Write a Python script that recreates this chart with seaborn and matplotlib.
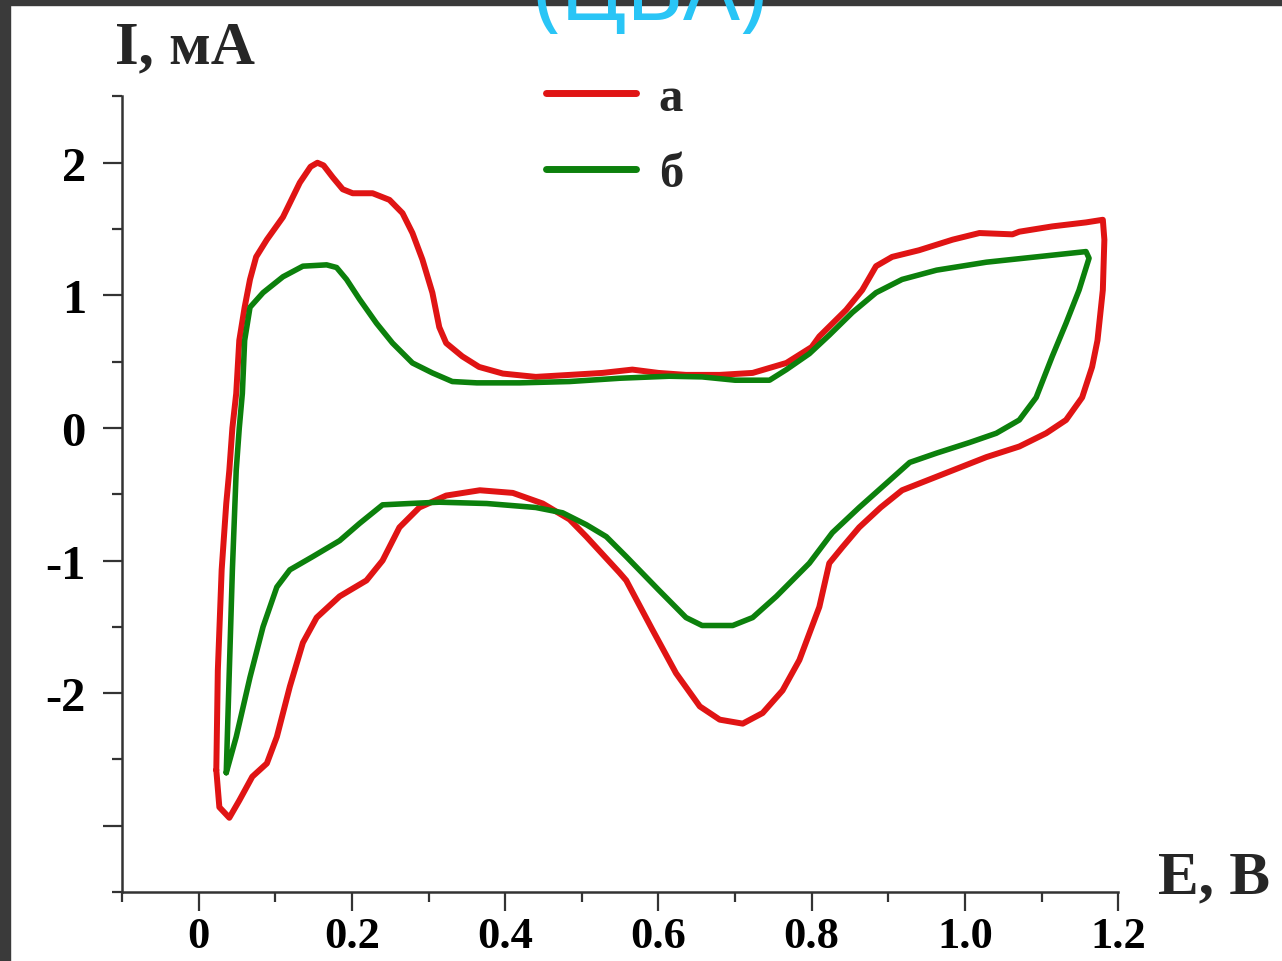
import numpy as np
import pandas as pd
import matplotlib
matplotlib.use("Agg")
import matplotlib.pyplot as plt
import seaborn as sns
from matplotlib.ticker import FixedLocator
from matplotlib.patches import Rectangle

# curve a (red), closed CV loop
red_E = [0.023, 0.025, 0.030, 0.036, 0.040, 0.044, 0.049, 0.053, 0.060, 0.067, 0.075, 0.089,
         0.110, 0.132, 0.146, 0.155, 0.163, 0.175, 0.188, 0.201, 0.227, 0.249, 0.266, 0.279,
         0.292, 0.305, 0.314, 0.323, 0.344, 0.366, 0.397, 0.440, 0.484, 0.527, 0.566, 0.600,
         0.636, 0.680, 0.723, 0.767, 0.800, 0.810, 0.845, 0.866, 0.884, 0.905, 0.940, 0.984,
         1.019, 1.062, 1.071, 1.114, 1.158, 1.180,
         1.182, 1.180, 1.173, 1.166, 1.153, 1.132, 1.106, 1.071, 1.028, 0.984, 0.940, 0.918,
         0.890, 0.862, 0.840, 0.823, 0.810, 0.784, 0.762, 0.736, 0.710, 0.680, 0.654, 0.623,
         0.592, 0.558, 0.549, 0.506, 0.484, 0.449, 0.410, 0.367, 0.323, 0.288, 0.262, 0.240,
         0.219, 0.184, 0.154, 0.136, 0.119, 0.102, 0.089, 0.070, 0.053, 0.040, 0.027, 0.023]
red_I = [-2.58, -1.83, -1.07, -0.57, -0.32, 0.00, 0.26, 0.66, 0.91, 1.12, 1.29, 1.42,
         1.59, 1.85, 1.97, 2.00, 1.98, 1.89, 1.80, 1.77, 1.77, 1.72, 1.62, 1.47,
         1.27, 1.02, 0.76, 0.64, 0.54, 0.46, 0.41, 0.385, 0.40, 0.415, 0.44, 0.415,
         0.40, 0.40, 0.415, 0.49, 0.61, 0.69, 0.89, 1.04, 1.22, 1.29, 1.34, 1.42,
         1.47, 1.46, 1.48, 1.52, 1.55, 1.57,
         1.42, 1.04, 0.66, 0.46, 0.23, 0.06, -0.04, -0.14, -0.22, -0.32, -0.42, -0.47,
         -0.60, -0.75, -0.90, -1.02, -1.35, -1.75, -1.98, -2.15, -2.23, -2.20, -2.10, -1.85,
         -1.52, -1.15, -1.09, -0.82, -0.69, -0.57, -0.49, -0.47, -0.51, -0.60, -0.75, -1.00,
         -1.15, -1.27, -1.43, -1.62, -1.95, -2.33, -2.53, -2.63, -2.81, -2.94, -2.86, -2.58]

# curve б (green)
green_E = [0.036, 0.040, 0.044, 0.049, 0.053, 0.057, 0.060, 0.067, 0.084, 0.110, 0.136, 0.167,
           0.180, 0.193, 0.210, 0.232, 0.253, 0.279, 0.305, 0.331, 0.363, 0.419, 0.484, 0.550,
           0.614, 0.657, 0.700, 0.745, 0.767, 0.797, 0.823, 0.853, 0.884, 0.918, 0.963, 1.028,
           1.093, 1.158, 1.162,
           1.149, 1.132, 1.114, 1.093, 1.071, 1.041, 1.006, 0.963, 0.928, 0.897, 0.862, 0.827,
           0.797, 0.754, 0.723, 0.697, 0.657, 0.636, 0.600, 0.558, 0.532, 0.506, 0.475, 0.440,
           0.376, 0.314, 0.275, 0.240, 0.210, 0.184, 0.149, 0.119, 0.102, 0.084, 0.067, 0.049,
           0.036]
green_I = [-2.60, -1.83, -1.07, -0.32, 0.00, 0.26, 0.66, 0.91, 1.02, 1.14, 1.22, 1.23,
           1.21, 1.12, 0.97, 0.79, 0.64, 0.49, 0.415, 0.35, 0.34, 0.34, 0.35, 0.375,
           0.39, 0.385, 0.36, 0.36, 0.44, 0.56, 0.70, 0.87, 1.02, 1.12, 1.19, 1.25,
           1.29, 1.33, 1.28,
           1.04, 0.79, 0.54, 0.23, 0.06, -0.04, -0.11, -0.19, -0.26, -0.42, -0.60, -0.79,
           -1.02, -1.27, -1.43, -1.49, -1.49, -1.43, -1.22, -0.97, -0.82, -0.73, -0.64, -0.60,
           -0.57, -0.56, -0.57, -0.58, -0.72, -0.85, -0.97, -1.07, -1.20, -1.50, -1.88, -2.33,
           -2.60]

x_ticks = [0, 0.2, 0.4, 0.6, 0.8, 1.0, 1.2]
x_labels = ["0", "0.2", "0.4", "0.6", "0.8", "1.0", "1.2"]
y_ticks = [-3, -2, -1, 0, 1, 2]
y_labels = ["", "-2", "-1", "0", "1", "2"]

red = "#e01414"
green = "#0c800c"
axis_col = "#333333"

sns.set_theme(style="ticks")
plt.rcParams['font.family'] = ['Liberation Serif', 'DejaVu Serif']
plt.rcParams['font.weight'] = 'bold'

fig = plt.figure(figsize=(12.82, 9.62), dpi=100)
fig.patch.set_facecolor("white")
ax = fig.add_axes([0.0952, 0.0717, 0.777, 0.827])

sns.lineplot(x=red_E, y=red_I, sort=False, estimator=None, color=red, lw=4.3,
             label="а", ax=ax)
sns.lineplot(x=green_E, y=green_I, sort=False, estimator=None, color=green, lw=4.0,
             label="б", ax=ax)

ax.set_xlim(-0.1, 1.2)
ax.set_ylim(-3.5, 2.5)
ax.xaxis.set_major_locator(FixedLocator(x_ticks))
ax.set_xticklabels(x_labels)
ax.xaxis.set_minor_locator(FixedLocator([-0.1, 0.1, 0.3, 0.5, 0.7, 0.9, 1.1]))
ax.yaxis.set_major_locator(FixedLocator(y_ticks))
ax.set_yticklabels(y_labels)
ax.yaxis.set_minor_locator(FixedLocator([-3.5, -2.5, -1.5, -0.5, 0.5, 1.5, 2.5]))

for s in ["top", "right"]:
    ax.spines[s].set_visible(False)
for s in ["left", "bottom"]:
    ax.spines[s].set_linewidth(1.8)
    ax.spines[s].set_color(axis_col)

ax.tick_params(which="major", length=14, width=1.6, color=axis_col, labelcolor="black")
ax.tick_params(which="minor", length=7, width=1.6, color=axis_col)
ax.tick_params(axis="y", which="major", pad=12, labelsize=35)
ax.tick_params(axis="x", which="major", pad=3, labelsize=32)
for t in ax.get_xticklabels() + ax.get_yticklabels():
    t.set_fontweight("bold")
ax.set_xlabel("")
ax.set_ylabel("")

leg = ax.legend(loc="upper left", bbox_to_anchor=(0.407, 0.945), bbox_transform=fig.transFigure,
                frameon=False, fontsize=35, handlelength=1.85, handletextpad=0.47,
                labelspacing=0.65, borderpad=0)
for line in leg.get_lines():
    line.set_linewidth(5)
for t in leg.get_texts():
    t.set_fontweight("bold")

fig.text(115 / 1282, 1 - 63 / 962, "I, мА", fontsize=44, fontweight="bold", ha="left",
         va="baseline")
fig.text(1158 / 1282, 1 - 893 / 962, "E, B", fontsize=44, fontweight="bold", ha="left",
         va="baseline")

# dark frame of the slide and the clipped title above
fig.patches.append(Rectangle((0, 0), 10 / 1282, 1, transform=fig.transFigure,
                             color="#3a3a3a", zorder=5))
fig.patches.append(Rectangle((0, 1 - 6 / 962), 1, 6 / 962, transform=fig.transFigure,
                             color="#3a3a3a", zorder=5))
fig.text(650 / 1282, 1 - 20 / 962, "(ЦВА)", fontsize=64, fontweight="bold",
         color="#29c5f6", ha="center", va="baseline", family=["Noto Sans", "DejaVu Sans"],
         zorder=6)

fig.savefig("out.png", dpi=100)
